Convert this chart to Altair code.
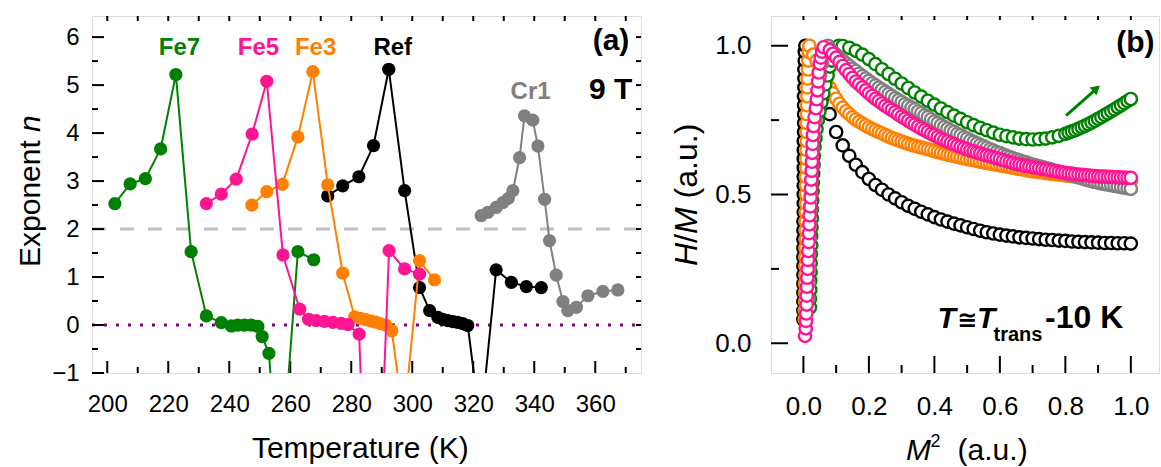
import altair as alt
import pandas as pd

# ---------------- Panel (a): exponent n vs temperature ----------------
ref_T = [272.3, 277.2, 282.5, 287.3, 292.3, 297.5, 302.4, 305.7, 308.4, 310.0, 311.7, 313.3, 314.9, 316.6, 318.2, 322.4, 327.5, 332.5, 337.4, 342.3]
ref_n = [2.69, 2.90, 3.09, 3.74, 5.33, 2.80, 0.78, 0.30, 0.16, 0.12, 0.09, 0.07, 0.055, 0.03, -0.01, -2.1, 1.15, 0.89, 0.80, 0.78]

cr1_T = [322.6, 324.8, 327.5, 329.7, 331.5, 333.0, 335.2, 336.8, 339.5, 341.2, 343.4, 345.0, 347.2, 349.4, 351.0, 353.8, 357.6, 362.5, 367.4]
cr1_n = [2.28, 2.35, 2.45, 2.55, 2.64, 2.80, 3.49, 4.36, 4.27, 3.73, 2.62, 1.76, 1.04, 0.49, 0.30, 0.37, 0.61, 0.70, 0.73]

fe7_T = [202.5, 207.5, 212.5, 217.5, 222.5, 227.5, 232.5, 237.4, 240.7, 242.8, 245.0, 247.2, 249.4, 250.8, 253.0, 256.5, 262.5, 267.7]
fe7_n = [2.53, 2.94, 3.05, 3.67, 5.22, 1.53, 0.19, 0.05, -0.02, 0.0, 0.0, 0.0, -0.03, -0.24, -0.59, -3.5, 1.53, 1.36]

fe3_T = [247.4, 252.3, 257.4, 262.5, 267.4, 272.3, 277.2, 281.1, 283.0, 284.8, 286.5, 288.0, 289.5, 291.3, 293.3, 297.2, 302.4, 307.3]
fe3_n = [2.50, 2.78, 2.93, 3.92, 5.28, 2.92, 1.08, 0.17, 0.14, 0.11, 0.08, 0.06, 0.03, 0.0, -0.12, -2.0, 1.34, 0.94]

fe5_T = [232.5, 237.4, 242.3, 247.5, 252.3, 257.6, 263.1, 266.0, 268.5, 271.2, 274.0, 276.7, 278.9, 282.6, 286.8, 292.4, 297.5, 302.4]
fe5_n = [2.53, 2.73, 3.04, 3.98, 5.08, 1.46, 0.33, 0.12, 0.09, 0.075, 0.055, 0.035, 0.01, -0.19, -7.5, 1.55, 1.17, 1.06]

a_labels = ["Fe7", "Fe5", "Fe3", "Ref", "Cr1"]
a_label_T = [223.7, 249.6, 268.3, 293.6, 338.8]
a_label_n = [5.78, 5.78, 5.78, 5.77, 4.86]

a_x_major = [200, 220, 240, 260, 280, 300, 320, 340, 360]
a_x_minor = [210, 230, 250, 270, 290, 310, 330, 350, 370]
a_y_major = [-1, 0, 1, 2, 3, 4, 5, 6]
a_y_minor = [-0.5, 0.5, 1.5, 2.5, 3.5, 4.5, 5.5]
a_top_ticks = [200, 210, 220, 230, 240, 250, 260, 270, 280, 290, 300, 310, 320, 330, 340, 350, 360, 370]
a_right_ticks = [-0.5, 0, 0.5, 1, 1.5, 2, 2.5, 3, 3.5, 4, 4.5, 5, 5.5, 6]

# ---------------- Panel (b): H/M vs M^2 ----------------
grid_even = [0.02, 0.04, 0.06, 0.08, 0.10, 0.12, 0.14, 0.16, 0.18, 0.20,
             0.22, 0.24, 0.26, 0.28, 0.30, 0.32, 0.34, 0.36, 0.38, 0.40,
             0.42, 0.44, 0.46, 0.48, 0.50, 0.52, 0.54, 0.56, 0.58, 0.60,
             0.62, 0.64, 0.66, 0.68, 0.70, 0.72, 0.74, 0.76, 0.78, 0.80,
             0.82, 0.84, 0.86, 0.88, 0.90, 0.92, 0.94, 0.96, 0.98, 1.00]
grid_odd = [0.03, 0.05, 0.07, 0.09, 0.11, 0.13, 0.15, 0.17, 0.19, 0.21,
            0.23, 0.25, 0.27, 0.29, 0.31, 0.33, 0.35, 0.37, 0.39, 0.41,
            0.43, 0.45, 0.47, 0.49, 0.51, 0.53, 0.55, 0.57, 0.59, 0.61,
            0.63, 0.65, 0.67, 0.69, 0.71, 0.73, 0.75, 0.77, 0.79, 0.81,
            0.83, 0.85, 0.87, 0.89, 0.91, 0.93, 0.95, 0.97, 0.99]

black_rise_hm = [0.08, 0.11, 0.14, 0.17, 0.20, 0.23, 0.26, 0.29,
                 0.32, 0.35, 0.38, 0.41, 0.44, 0.47, 0.50, 0.53,
                 0.56, 0.59, 0.62, 0.65, 0.68, 0.71, 0.74, 0.77,
                 0.80, 0.83, 0.86, 0.89, 0.92, 0.95, 0.98, 1.00]
black_rise_mx = [0.000, 0.000, 0.000, 0.000, 0.000, 0.000, 0.000, 0.000,
                 0.000, 0.000, 0.000, 0.000, 0.001, 0.001, 0.001, 0.001,
                 0.001, 0.001, 0.001, 0.001, 0.001, 0.002, 0.002, 0.002,
                 0.002, 0.002, 0.003, 0.003, 0.003, 0.004, 0.004, 0.006]
black_tail_mx = grid_even
black_tail_hm = [0.95, 0.89, 0.83, 0.77, 0.71, 0.665, 0.63, 0.60, 0.575, 0.552,
                 0.532, 0.516, 0.50, 0.487, 0.474, 0.462, 0.452, 0.442, 0.433, 0.424,
                 0.416, 0.409, 0.402, 0.396, 0.39, 0.384, 0.378, 0.373, 0.369, 0.365,
                 0.362, 0.359, 0.356, 0.354, 0.352, 0.35, 0.348, 0.347, 0.345, 0.344,
                 0.342, 0.341, 0.34, 0.339, 0.338, 0.337, 0.337, 0.336, 0.336, 0.335]

orange_rise_hm = black_rise_hm
orange_rise_mx = [0.004, 0.004, 0.005, 0.005, 0.005, 0.006, 0.006, 0.006,
                  0.006, 0.007, 0.007, 0.007, 0.007, 0.008, 0.008, 0.008,
                  0.008, 0.009, 0.009, 0.009, 0.010, 0.010, 0.010, 0.011,
                  0.011, 0.012, 0.012, 0.013, 0.014, 0.015, 0.016, 0.018]
orange_tail_mx = grid_odd + grid_even[1:]
orange_tail_hm = [0.97, 0.93, 0.88, 0.84, 0.805, 0.78, 0.76, 0.745, 0.732, 0.72,
                  0.71, 0.70, 0.69, 0.682, 0.674, 0.667, 0.661, 0.655, 0.649, 0.643,
                  0.637, 0.632, 0.627, 0.622, 0.617, 0.613, 0.608, 0.604, 0.600, 0.596,
                  0.592, 0.588, 0.584, 0.58, 0.577, 0.574, 0.571, 0.568, 0.566, 0.563,
                  0.561, 0.559, 0.557, 0.555, 0.553, 0.551, 0.549, 0.547, 0.546,
                  0.95, 0.905, 0.86, 0.822, 0.792, 0.77, 0.752, 0.738, 0.726, 0.715,
                  0.705, 0.695, 0.686, 0.678, 0.67, 0.664, 0.658, 0.652, 0.646, 0.64,
                  0.634, 0.629, 0.624, 0.619, 0.615, 0.61, 0.606, 0.602, 0.598, 0.594,
                  0.59, 0.586, 0.582, 0.578, 0.575, 0.572, 0.569, 0.567, 0.564, 0.562,
                  0.56, 0.558, 0.556, 0.554, 0.552, 0.55, 0.548, 0.546, 0.545]

green_rise_hm = [0.12, 0.15, 0.18, 0.21, 0.24, 0.27, 0.30, 0.33,
                 0.36, 0.39, 0.42, 0.45, 0.48, 0.51, 0.54, 0.57,
                 0.60, 0.63, 0.66, 0.69, 0.72, 0.75, 0.78, 0.81,
                 0.84, 0.87, 0.90, 0.93, 0.95, 0.97, 0.99, 1.00]
green_rise_mx = [0.020, 0.020, 0.021, 0.021, 0.022, 0.022, 0.023, 0.024,
                 0.024, 0.025, 0.026, 0.026, 0.027, 0.028, 0.029, 0.030,
                 0.031, 0.032, 0.034, 0.037, 0.040, 0.044, 0.049, 0.055,
                 0.061, 0.067, 0.074, 0.081, 0.087, 0.093, 0.100, 0.108]
green_tail_mx = grid_even[5:] + grid_odd[39:]
green_tail_hm = [0.999, 0.993, 0.983, 0.97, 0.955, 0.938, 0.921, 0.905, 0.889, 0.873,
                 0.858, 0.843, 0.829, 0.815, 0.802, 0.789, 0.777, 0.765, 0.754, 0.743,
                 0.733, 0.724, 0.716, 0.708, 0.701, 0.696, 0.692, 0.688, 0.686, 0.685,
                 0.686, 0.688, 0.692, 0.697, 0.704, 0.712, 0.721, 0.731, 0.742, 0.754,
                 0.767, 0.78, 0.793, 0.807, 0.821,
                 0.708, 0.716, 0.726, 0.736, 0.748, 0.76, 0.773, 0.786, 0.80, 0.814]

gray_rise_hm = [0.15, 0.20, 0.25, 0.30, 0.35, 0.40, 0.45, 0.50,
                0.55, 0.60, 0.65, 0.70, 0.75, 0.80, 0.85, 0.90,
                0.94, 0.97, 0.99, 1.00]
gray_rise_mx = [0.015, 0.016, 0.017, 0.018, 0.019, 0.020, 0.022, 0.023,
                0.025, 0.027, 0.029, 0.032, 0.036, 0.040, 0.045, 0.051,
                0.057, 0.063, 0.069, 0.075]
gray_tail_mx = grid_even[3:] + grid_odd[3:]
gray_tail_hm = [0.99, 0.97, 0.95, 0.932, 0.915, 0.898, 0.882, 0.867, 0.852, 0.838,
                0.824, 0.811, 0.798, 0.786, 0.773, 0.76, 0.746, 0.733, 0.721, 0.71,
                0.699, 0.688, 0.677, 0.667, 0.657, 0.648, 0.639, 0.63, 0.622, 0.615,
                0.608, 0.601, 0.595, 0.589, 0.583, 0.577, 0.571, 0.564, 0.557, 0.551,
                0.545, 0.54, 0.535, 0.531, 0.527, 0.523, 0.519,
                0.98, 0.96, 0.941, 0.923, 0.906, 0.89, 0.874, 0.859, 0.845, 0.831,
                0.817, 0.804, 0.792, 0.779, 0.766, 0.753, 0.74, 0.727, 0.715, 0.704,
                0.693, 0.682, 0.672, 0.662, 0.652, 0.643, 0.634, 0.626, 0.618, 0.611,
                0.604, 0.598, 0.592, 0.586, 0.58, 0.574, 0.567, 0.56, 0.554, 0.548,
                0.542, 0.537, 0.533, 0.529, 0.525, 0.521]

pink_rise_hm = [0.025, 0.05, 0.075, 0.10, 0.13, 0.16, 0.19, 0.22,
                0.25, 0.28, 0.31, 0.34, 0.37, 0.40, 0.43, 0.46,
                0.49, 0.52, 0.55, 0.58, 0.61, 0.64, 0.67, 0.70,
                0.73, 0.76, 0.79, 0.82, 0.85, 0.88, 0.91, 0.94,
                0.96, 0.98, 0.995]
pink_rise_mx = [0.005, 0.007, 0.008, 0.009, 0.010, 0.010, 0.011, 0.012,
                0.013, 0.014, 0.015, 0.016, 0.017, 0.018, 0.019, 0.021,
                0.022, 0.023, 0.024, 0.025, 0.026, 0.027, 0.028, 0.029,
                0.031, 0.034, 0.038, 0.041, 0.043, 0.045, 0.047, 0.050,
                0.053, 0.057, 0.062]
pink_tail_mx = grid_even[3:] + grid_odd[3:]
pink_tail_hm = [0.985, 0.96, 0.932, 0.905, 0.88, 0.86, 0.84, 0.822, 0.806, 0.791,
                0.777, 0.762, 0.748, 0.735, 0.722, 0.71, 0.699, 0.688, 0.678, 0.669,
                0.66, 0.652, 0.645, 0.638, 0.631, 0.625, 0.619, 0.612, 0.606, 0.601,
                0.596, 0.592, 0.588, 0.584, 0.58, 0.576, 0.573, 0.57, 0.567, 0.565,
                0.563, 0.561, 0.56, 0.559, 0.558, 0.557, 0.556,
                0.973, 0.946, 0.918, 0.892, 0.87, 0.85, 0.831, 0.814, 0.798, 0.784,
                0.769, 0.755, 0.741, 0.728, 0.716, 0.704, 0.693, 0.683, 0.673, 0.664,
                0.656, 0.648, 0.641, 0.634, 0.628, 0.622, 0.615, 0.609, 0.603, 0.598,
                0.594, 0.59, 0.586, 0.582, 0.578, 0.574, 0.571, 0.568, 0.566, 0.564,
                0.562, 0.56, 0.559, 0.558, 0.557, 0.556]

b_x_major = [0.0, 0.2, 0.4, 0.6, 0.8, 1.0]
b_x_minor = [0.1, 0.3, 0.5, 0.7, 0.9]
b_y_major = [0.0, 0.5, 1.0]
b_y_minor = [0.25, 0.75]
b_top_ticks = [0.0, 0.1, 0.2, 0.3, 0.4, 0.5, 0.6, 0.7, 0.8, 0.9, 1.0]

# arrow in panel (b)
arrow_x1, arrow_y1, arrow_x2, arrow_y2 = [0.802], [0.765], [0.893], [0.853]
arrow_head_x, arrow_head_y = [0.895], [0.856]

# ---------------- styling ----------------
BLACK, GRAY, GREEN, ORANGE, PINK = "#000000", "#808080", "#008000", "#FF8000", "#FF1493"
FONT = "Liberation Sans"

WA, HA = 549, 357
WB, HB = 388, 357
XA = alt.Scale(domain=[195, 375], nice=False, zero=False)
YA = alt.Scale(domain=[-1, 6.44], nice=False, zero=False)
XB = alt.Scale(domain=[-0.099, 1.086], nice=False, zero=False)
YB = alt.Scale(domain=[-0.1, 1.1], nice=False, zero=False)


def ax(values, size, pad, fmt):
    return alt.Axis(values=values, labelFontSize=size, labelPadding=pad, ticks=False, tickSize=0,
                    domain=False, grid=False, title=None, format=fmt, labelColor="black",
                    labelFont=FONT, labelOverlap=False, labelFlush=False)


# one axis object per scale, shared by every layer that uses that scale
AX_AX = ax(a_x_major, 24, 19, "d")
AX_AY = ax(a_y_major, 24, 13, "d")
AX_BX = ax(b_x_major, 26, 20, ".1f")
AX_BY = ax(b_y_major, 26, 20, ".1f")


def txt(s, x, y, size, align="left", baseline="alphabetic", angle=0, **kw):
    m = dict(fontSize=size, align=align, baseline=baseline, color="black", font=FONT)
    if angle:
        m["angle"] = angle
    m.update(kw)
    return alt.Chart(pd.DataFrame({"t": [s]})).mark_text(**m).encode(
        text="t:N", x=alt.value(x), y=alt.value(y))


def xticks(vals, scale, axis, y1, y2):
    return alt.Chart(pd.DataFrame({"v": vals})).mark_rule(color="black", strokeWidth=2).encode(
        x=alt.X("v:Q", scale=scale, axis=axis), y=alt.value(y1), y2=alt.value(y2))


def yticks(vals, scale, axis, x1, x2):
    return alt.Chart(pd.DataFrame({"v": vals})).mark_rule(color="black", strokeWidth=2).encode(
        y=alt.Y("v:Q", scale=scale, axis=axis), x=alt.value(x1), x2=alt.value(x2))


def series_a(T, n, color):
    df = pd.DataFrame({"T": T, "n": n})
    base = alt.Chart(df).encode(x=alt.X("T:Q", scale=XA, axis=AX_AX),
                                y=alt.Y("n:Q", scale=YA, axis=AX_AY))
    return base.mark_line(color=color, strokeWidth=2, clip=True) + \
        base.mark_circle(color=color, size=175, opacity=1, clip=True)


def series_b(rise_mx, rise_hm, tail_mx, tail_hm, color):
    rise = pd.DataFrame({"m": rise_mx, "h": rise_hm})
    tail = pd.DataFrame({"m": tail_mx, "h": tail_hm}).sort_values("m")
    df = pd.concat([rise, tail], ignore_index=True)
    return alt.Chart(df).mark_point(shape="circle", filled=False, fill="white", fillOpacity=1,
                                    stroke=color, strokeWidth=2.4, size=150, opacity=1, clip=True).encode(
        x=alt.X("m:Q", scale=XB, axis=AX_BX), y=alt.Y("h:Q", scale=YB, axis=AX_BY))


# ---- panel (a) layers ----
hl2 = alt.Chart(pd.DataFrame({"v": [2]})).mark_rule(color="#C0C0C0", strokeWidth=3, strokeDash=[14, 14]).encode(
    y=alt.Y("v:Q", scale=YA, axis=AX_AY), x=alt.value(0), x2=alt.value(WA))
hl0 = alt.Chart(pd.DataFrame({"v": [0]})).mark_rule(color="#800080", strokeWidth=3, strokeDash=[3, 9]).encode(
    y=alt.Y("v:Q", scale=YA, axis=AX_AY), x=alt.value(0), x2=alt.value(WA))

lab_df = pd.DataFrame({"T": a_label_T, "n": a_label_n, "label": a_labels,
                       "c": [GREEN, PINK, ORANGE, BLACK, GRAY]})
labels_a = alt.Chart(lab_df).mark_text(fontSize=24, fontWeight="bold", font=FONT, align="center",
                                       baseline="middle").encode(
    x=alt.X("T:Q", scale=XA, axis=AX_AX), y=alt.Y("n:Q", scale=YA, axis=AX_AY),
    text="label:N", color=alt.Color("c:N", scale=None))

panel_a = alt.layer(
    hl2, hl0,
    xticks(a_x_major, XA, AX_AX, HA, HA - 12),
    xticks(a_x_minor, XA, AX_AX, HA, HA - 6),
    xticks(a_top_ticks, XA, AX_AX, 0, 5),
    yticks(a_y_major, YA, AX_AY, 0, 12),
    yticks(a_y_minor, YA, AX_AY, 0, 6),
    yticks(a_right_ticks, YA, AX_AY, WA - 5, WA),
    series_a(ref_T, ref_n, BLACK),
    series_a(cr1_T, cr1_n, GRAY),
    series_a(fe7_T, fe7_n, GREEN),
    series_a(fe3_T, fe3_n, ORANGE),
    series_a(fe5_T, fe5_n, PINK),
    labels_a,
    txt("(a)", 519, 25, 30, align="center", baseline="middle", fontWeight="bold"),
    txt("9 T", 518.6, 73.7, 30, align="center", baseline="middle", fontWeight="bold"),
    txt("Temperature (K)", 268.3, 442, 30, align="center"),
    txt("Exponent", -52, 251, 30, angle=270),
    txt("n", -52, 116, 30, angle=270, fontStyle="italic"),
).properties(width=WA, height=HA)

# ---- panel (b) layers ----
arrow = alt.Chart(pd.DataFrame({"x1": arrow_x1, "y1": arrow_y1, "x2": arrow_x2, "y2": arrow_y2})).mark_rule(
    color=GREEN, strokeWidth=3).encode(
    x=alt.X("x1:Q", scale=XB, axis=AX_BX), y=alt.Y("y1:Q", scale=YB, axis=AX_BY), x2="x2:Q", y2="y2:Q")
head = alt.Chart(pd.DataFrame({"x": arrow_head_x, "y": arrow_head_y})).mark_point(
    shape="triangle-up", filled=True, color=GREEN, size=110, angle=49, opacity=1).encode(
    x=alt.X("x:Q", scale=XB, axis=AX_BX), y=alt.Y("y:Q", scale=YB, axis=AX_BY))

panel_b = alt.layer(
    xticks(b_x_major, XB, AX_BX, HB, HB - 17),
    xticks(b_x_minor, XB, AX_BX, HB, HB - 8),
    xticks(b_top_ticks, XB, AX_BX, 0, 4),
    yticks(b_y_major, YB, AX_BY, 0, 17),
    yticks(b_y_minor, YB, AX_BY, 0, 8),
    series_b(black_rise_mx, black_rise_hm, black_tail_mx, black_tail_hm, BLACK),
    series_b(orange_rise_mx, orange_rise_hm, orange_tail_mx, orange_tail_hm, ORANGE),
    series_b(green_rise_mx, green_rise_hm, green_tail_mx, green_tail_hm, GREEN),
    series_b(gray_rise_mx, gray_rise_hm, gray_tail_mx, gray_tail_hm, GRAY),
    series_b(pink_rise_mx, pink_rise_hm, pink_tail_mx, pink_tail_hm, PINK),
    arrow, head,
    txt("(b)", 364.3, 27, 30, align="center", baseline="middle", fontWeight="bold"),
    txt("T", 166.6, 311.7, 30, fontWeight="bold", fontStyle="italic"),
    txt("\u2245", 186, 311.7, 24, fontWeight="bold", font="DejaVu Sans"),
    txt("T", 206, 311.7, 30, fontWeight="bold", fontStyle="italic"),
    txt("trans", 222.5, 325, 20, fontWeight="bold"),
    txt("-10 K", 274, 311.7, 32, fontWeight="bold"),
    txt("H", -74, 250, 32, angle=270, fontStyle="italic"),
    txt("/", -74, 226.9, 32, angle=270),
    txt("M", -74, 218, 32, angle=270, fontStyle="italic"),
    txt("(a.u.)", -74, 182.4, 32, angle=270),
    txt("M", 135, 444, 30, fontStyle="italic"),
    txt("2", 159.5, 431, 18),
    txt("(a.u.)", 186.6, 444, 30),
).properties(width=WB, height=HB)

chart = alt.hconcat(
    panel_a, panel_b, spacing=130, bounds="flush",
    padding={"left": 15, "top": 14, "right": 0, "bottom": 0},
).configure_view(stroke="black", strokeWidth=2).configure(background="white", font=FONT)

chart.save("out.html", embed_options={"renderer": "svg", "actions": False})
